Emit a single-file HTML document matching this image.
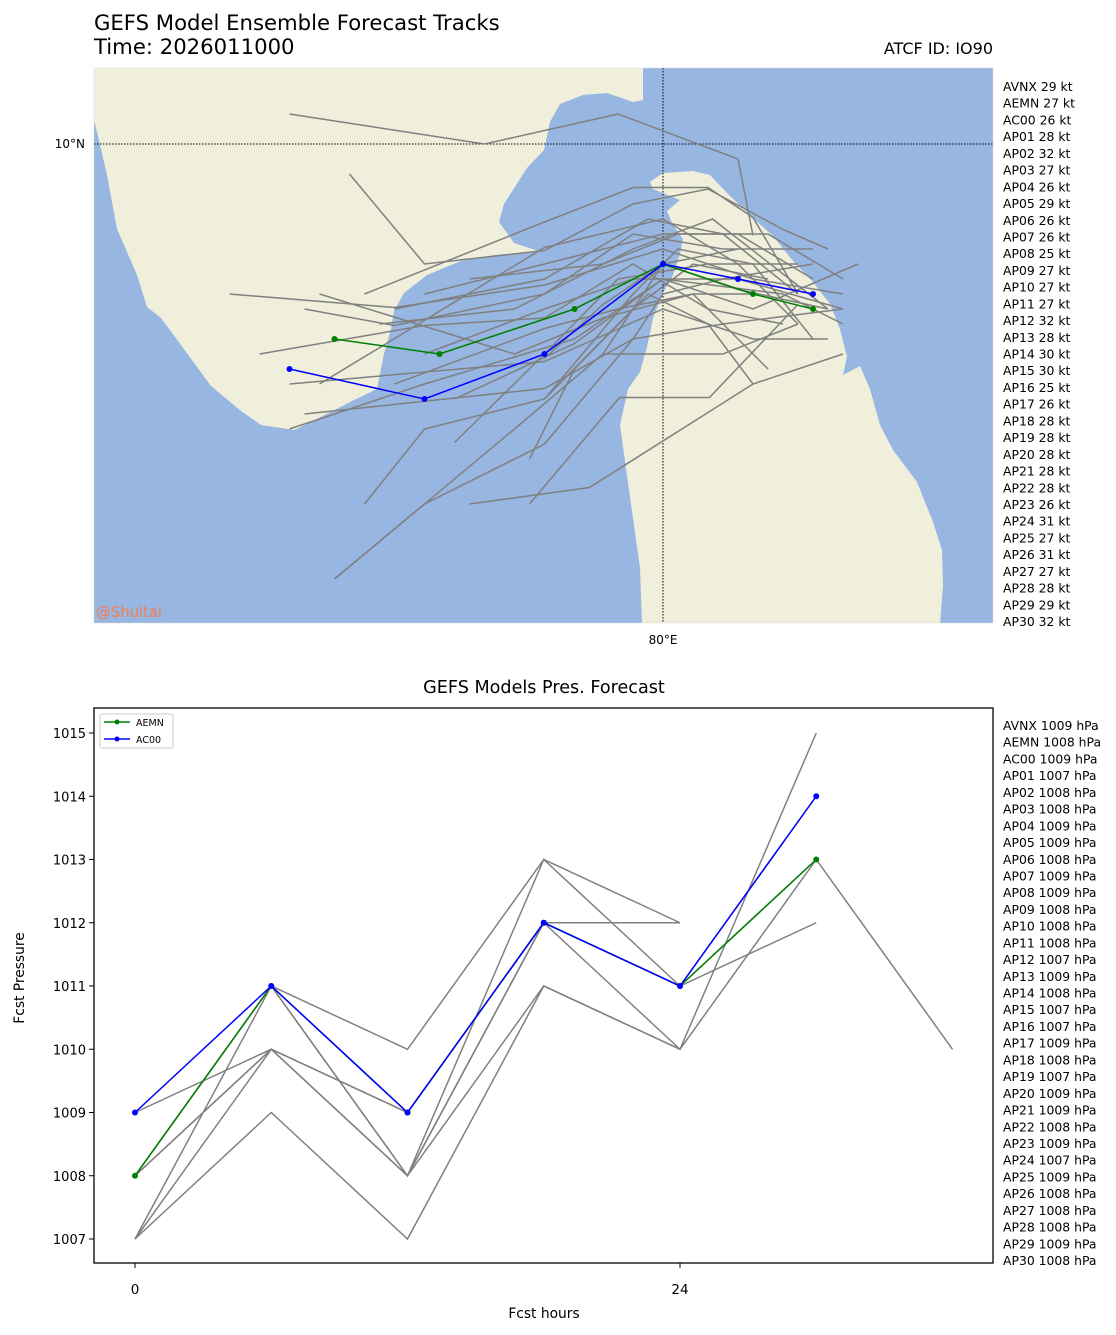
<!DOCTYPE html>
<html><head><meta charset="utf-8">
<style>
body{margin:0;background:#fff;}
svg{display:block;font-family:"DejaVu Sans","Liberation Sans",sans-serif;}
</style></head>
<body>
<svg id="s" width="1116" height="1335" viewBox="0 0 1116 1335" xmlns="http://www.w3.org/2000/svg">
<text x="94" y="30" font-size="21.2">GEFS Model Ensemble Forecast Tracks</text>
<text x="94" y="54" font-size="21.2">Time: 2026011000</text>
<text x="993" y="54" font-size="16" text-anchor="end">ATCF ID: IO90</text>
<defs><clipPath id="mapclip"><rect x="94" y="68" width="899" height="555"/></clipPath>
<clipPath id="pclip"><rect x="94" y="708" width="899" height="555"/></clipPath></defs>
<g id="map" clip-path="url(#mapclip)">
<rect x="94" y="68" width="899" height="555" fill="#97b6e1"/>
<polygon fill="#efefdb" points="94,68 643,68 643,100 633,102 607,93 583,95 560,104 550,122 544,150 527,168 504,204 499,222 514,243 541,252 494,255 461,261 427,275 404,293 394,311 391,329 384,354 377,389 354,400 301,427 294,430 261,425 241,411 211,386 161,318 147,307 137,275 117,229 107,175 97,132 94,120"/>
<polygon fill="#efefdb" points="650,182 663,173 693,171 710,175 727,193 753,218 773,236 793,261 813,282 830,304 840,329 847,357 843,375 860,366 870,389 880,425 893,450 917,482 933,522 942,550 943,586 940,624 642,624 640,568 630,497 620,425 628,389 640,372 647,347 653,318 663,293 673,275 680,254 683,239 673,225 667,211 680,200 653,189"/>
<line x1="94" y1="144" x2="993" y2="144" stroke="#000" stroke-width="1" stroke-dasharray="1.5,1.5"/>
<line x1="663" y1="68" x2="663" y2="623" stroke="#000" stroke-width="1" stroke-dasharray="1.5,1.5"/>
<g id="tracks"></g>
<text x="96" y="617" font-size="14.8" fill="#f47c4c">@Shuitai</text>
</g>
<rect x="94" y="68" width="899" height="555" fill="none" stroke="#ddd" stroke-width="0.5"/>
<text x="85" y="148" font-size="12" text-anchor="end">10°N</text>
<text x="663" y="644" font-size="12" text-anchor="middle">80°E</text>
<g id="ktlist"></g>

<text x="544" y="693" font-size="17.6" text-anchor="middle">GEFS Models Pres. Forecast</text>
<g id="pplot">
<g id="pticks"></g>
<g id="plines" clip-path="url(#pclip)"></g>
<rect x="94" y="708" width="899" height="555" fill="none" stroke="#000" stroke-width="1.3"/>
</g>
<text x="544" y="1318" font-size="13.8" text-anchor="middle">Fcst hours</text>
<text x="24" y="978" font-size="13.8" text-anchor="middle" transform="rotate(-90 24 978)">Fcst Pressure</text>
<g>
<rect x="100" y="714" width="73" height="34" rx="2" fill="#fff" stroke="#ccc"/>
<line x1="104" y1="722" x2="130" y2="722" stroke="#008000" stroke-width="1.5"/>
<circle cx="117" cy="722" r="2.5" fill="#008000"/>
<text x="136" y="726" font-size="9.5">AEMN</text>
<line x1="104" y1="739" x2="130" y2="739" stroke="#0000ff" stroke-width="1.5"/>
<circle cx="117" cy="739" r="2.5" fill="#0000ff"/>
<text x="136" y="743" font-size="9.5">AC00</text>
</g>
<g id="hpalist"></g>
</svg>
<script>
// ---- Track map data (lon/lat) ----
const grayTrackLons = [
 [77.51,78.81,79.70,80.50,80.60],
 [77.91,78.41,79.21,79.80,80.30,80.80,81.10],
 [78.01,79.21,79.80,80.30,80.60,80.90],
 [77.11,78.21,79.21,80.00,80.60,81.20],
 [77.71,79.01,79.60,80.20,80.70],
 [77.61,78.21,79.21,79.80,80.40,81.00],
 [77.31,78.41,79.21,79.80,80.30,80.80],
 [77.71,79.21,80.00,80.50,80.90],
 [77.51,79.21,80.00,80.60,81.10],
 [77.61,79.21,79.80,80.40,81.20],
 [77.51,78.41,79.41,80.00,80.80,81.20],
 [78.01,78.41,79.21,79.80,80.20,80.70],
 [77.81,79.01,79.60,80.00,80.50],
 [77.81,78.41,79.21,79.80,80.00,80.40,81.00],
 [78.61,79.21,79.70,80.30,80.90],
 [79.11,79.41,79.90,80.30,80.60],
 [78.71,79.51,80.60,81.20],
 [79.11,79.71,80.31,80.89],
 [78.41,79.21,80.00,80.50,81.00],
 [78.71,79.60,80.10,80.70,81.20],
 [78.21,79.21,79.90,80.40,80.90],
 [78.11,79.01,79.80,80.33,81.10],
 [79.21,79.80,80.10,80.60,81.00],
 [79.21,79.60,80.00,80.50,81.10],
 [79.60,80.40,80.90],
 [78.21,79.21,79.70,80.20,80.60],
 [78.41,79.21,79.80,80.50,81.20],
 [78.61,79.41,80.00,80.60,81.30]
];
const grayTrackLats = [
 [10.20,10.00,10.20,9.90,9.39],
 [9.80,9.20,9.29,9.60,9.70,9.43,9.30],
 [9.00,9.48,9.71,9.71,9.51,9.00],
 [9.00,8.91,9.06,9.30,9.10,9.00],
 [9.00,8.60,8.84,9.00,8.50],
 [8.90,8.79,9.00,9.40,9.30,9.30],
 [8.60,8.79,8.84,9.20,8.90,8.80],
 [8.40,9.31,9.50,9.20,8.80],
 [8.40,8.55,8.90,8.70,8.70],
 [8.20,8.37,8.70,8.80,8.90],
 [8.10,8.40,8.70,9.10,9.00,8.80],
 [7.60,8.10,8.30,8.90,9.20,9.10],
 [7.10,8.10,8.60,9.20,9.30],
 [7.10,7.60,8.00,8.70,9.00,9.10,9.20],
 [8.01,8.60,9.10,9.20,9.20],
 [7.90,8.50,9.00,8.80,8.40],
 [7.60,7.71,8.40,8.60],
 [7.60,8.31,8.31,8.92],
 [9.00,9.20,9.40,9.40,9.10],
 [9.10,9.20,9.40,9.40,9.10],
 [8.90,9.10,9.50,9.40,9.00],
 [8.80,8.90,9.30,9.50,8.90],
 [8.30,9.00,9.30,9.20,8.70],
 [8.57,8.93,9.20,9.03,8.90],
 [8.60,8.60,8.80],
 [8.40,8.77,8.90,9.00,9.00],
 [8.60,8.90,9.10,9.10,8.90],
 [8.30,8.67,9.10,8.90,9.20]
];
const aemnLons = [77.81,78.51,79.41,80.00,80.60,81.00];
const aemnLats = [8.70,8.60,8.90,9.20,9.00,8.90];
const ac00Lons = [77.51,78.41,79.21,80.00,80.50,81.00];
const ac00Lats = [8.50,8.30,8.60,9.20,9.10,9.00];
const memberNames = ["AVNX","AEMN","AC00","AP01","AP02","AP03","AP04","AP05","AP06","AP07","AP08","AP09","AP10","AP11","AP12","AP13","AP14","AP15","AP16","AP17","AP18","AP19","AP20","AP21","AP22","AP23","AP24","AP25","AP26","AP27","AP28","AP29","AP30"];
const memberKt = [29,27,26,28,32,27,26,29,26,26,25,27,27,27,32,28,30,30,25,26,28,28,28,28,28,26,31,27,31,27,28,29,32];
const memberHpa = [1009,1008,1009,1007,1008,1008,1009,1009,1008,1009,1009,1008,1008,1008,1007,1009,1008,1007,1007,1009,1008,1007,1009,1009,1008,1009,1007,1009,1008,1008,1008,1009,1008];

// ---- Pressure chart data ----
const fcstHours = [0,6,12,18,24,30,36];
const xTickLabels = [0,24];
const yTickLabels = [1007,1008,1009,1010,1011,1012,1013,1014,1015];
const grayPres = [
 [1009,1010,1009,1012,1011,1014],
 [1008,1011,1010,1013,1012],
 [1007,1009,1007,1011,1010,1015],
 [1007,1010,1008,1011,1010,1013,1010],
 [1008,1010,1008,1012,1011,1012],
 [1008,1011,1008,1013,1011,1013],
 [1007,1011,1008,1012,1012],
 [1008,1010,1009,1012,1010]
];
const aemnPres = [1008,1011,1009,1012,1011,1013];
const ac00Pres = [1009,1011,1009,1012,1011,1014];

const NS="http://www.w3.org/2000/svg";
function mk(tag,attrs,parent){const e=document.createElementNS(NS,tag);for(const k in attrs)e.setAttribute(k,attrs[k]);parent.appendChild(e);return e;}
const lonX = lon => 663 + (lon-80)*150;
const latY = lat => 144 + (10-lat)*150;
const hX = h => 135 + h*(680-135)/24;
const pY = p => 1239 - (p-1007)*(1239-733)/8;

const tg=document.getElementById('tracks');
grayTrackLons.forEach((lons,i)=>{
  const pts=lons.map((lo,j)=>lonX(lo)+','+latY(grayTrackLats[i][j])).join(' ');
  const pl=mk('polyline',{points:pts,fill:'none',stroke:'#808080','stroke-width':1.5},tg);
  
  
});
function colTrack(lons,lats,col,name){
  const pts=lons.map((lo,j)=>lonX(lo)+','+latY(lats[j])).join(' ');
  const pl=mk('polyline',{points:pts,fill:'none',stroke:col,'stroke-width':1.5},tg);
  
  
  lons.forEach((lo,j)=>{
    const c=mk('circle',{cx:lonX(lo),cy:latY(lats[j]),r:3,fill:col},tg);
    
    
  });
}
colTrack(aemnLons,aemnLats,'#008000','aemn');
colTrack(ac00Lons,ac00Lats,'#0000ff','ac00');

const kl=document.getElementById('ktlist'), hl=document.getElementById('hpalist');
memberNames.forEach((n,i)=>{
  const t=mk('text',{x:1003,y:91+i*16.72,'font-size':12.4},kl);
  t.textContent=n+' '+memberKt[i]+' kt';
  
  
  const t2=mk('text',{x:1003,y:730+i*16.72,'font-size':12.4},hl);
  t2.textContent=n+' '+memberHpa[i]+' hPa';
  
  
});

const tk=document.getElementById('pticks');
yTickLabels.forEach(v=>{
  const l=mk('line',{x1:89,x2:94,y1:pY(v),y2:pY(v),stroke:'#000'},tk);
  
  
  const t=mk('text',{x:86,y:pY(v)+5,'font-size':13,'text-anchor':'end'},tk);
  t.textContent=v;
  
  
});
xTickLabels.forEach(v=>{
  const l=mk('line',{x1:hX(v),x2:hX(v),y1:1263,y2:1268,stroke:'#000'},tk);
  
  
  const t=mk('text',{x:hX(v),y:1294,'font-size':13.5,'text-anchor':'middle'},tk);
  t.textContent=v;
  
  
});
const plg=document.getElementById('plines');
grayPres.forEach(s=>{
  const pts=s.map((p,j)=>hX(fcstHours[j])+','+pY(p)).join(' ');
  const pl=mk('polyline',{points:pts,fill:'none',stroke:'#808080','stroke-width':1.5},plg);
  
  
});
function colPres(s,col,name){
  const pts=s.map((p,j)=>hX(fcstHours[j])+','+pY(p)).join(' ');
  const pl=mk('polyline',{points:pts,fill:'none',stroke:col,'stroke-width':1.5},plg);
  
  
  s.forEach((p,j)=>{
    const c=mk('circle',{cx:hX(fcstHours[j]),cy:pY(p),r:3,fill:col},plg);
    
    
  });
}
colPres(aemnPres,'#008000','aemn');
colPres(ac00Pres,'#0000ff','ac00');
</script>
</body></html>
